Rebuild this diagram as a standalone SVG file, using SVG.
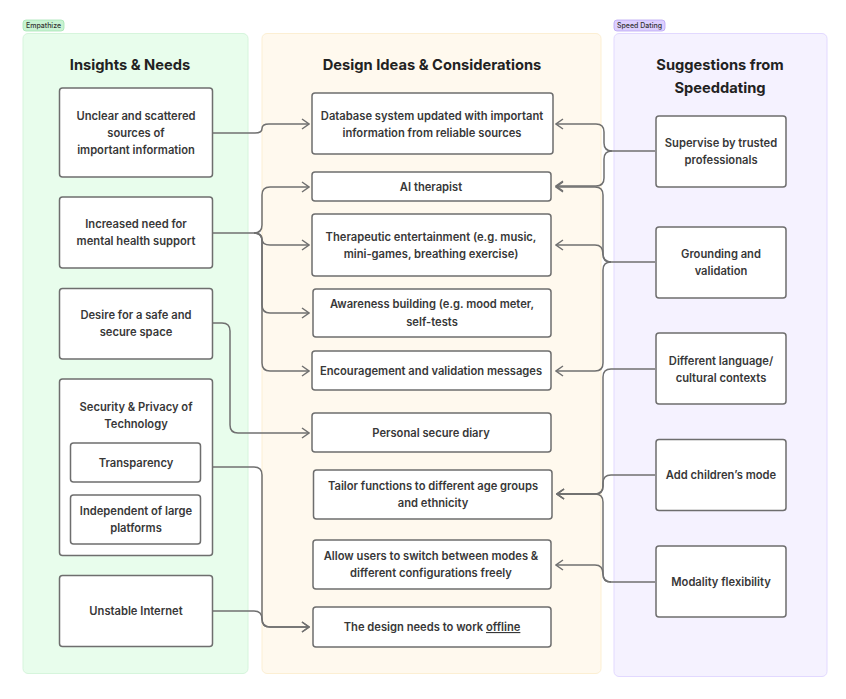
<svg xmlns="http://www.w3.org/2000/svg" width="846" height="699" viewBox="0 0 846 699">
<defs>
<style>
.panel-g{fill:#E8FDEC;stroke:#D6F5DC;stroke-width:1}
.panel-y{fill:#FFF9EE;stroke:#FCEFD3;stroke-width:1}
.panel-p{fill:#F5F2FF;stroke:#E2D9FF;stroke-width:1}
.box{fill:#FFFFFF;stroke:#6E6E6E;stroke-width:1.5}
.t{font-family:Inter,"Liberation Sans",sans-serif;font-size:11.2px;font-weight:600;fill:#383838;text-anchor:middle}
.title{font-family:Inter,"Liberation Sans",sans-serif;font-size:14.7px;font-weight:700;fill:#222;text-anchor:middle}
.tag{font-family:Inter,"Liberation Sans",sans-serif;font-size:7px;font-weight:500;fill:#333;text-anchor:middle}
.c{fill:none;stroke:#707070;stroke-width:1.5}
</style>
<marker id="arr" viewBox="0 0 10 12" refX="9" refY="6" markerWidth="10" markerHeight="12" markerUnits="userSpaceOnUse" orient="auto">
<path d="M2,1 L9,6 L2,11" fill="none" stroke="#707070" stroke-width="1.5"/>
</marker>
</defs>
<rect width="846" height="699" fill="#FFFFFF"/>

<g id="panels">
<rect class="panel-g" x="23" y="33.5" width="225" height="640" rx="5"/>
<rect class="panel-y" x="262" y="33.5" width="339" height="640" rx="5"/>
<rect class="panel-p" x="614" y="33.5" width="213" height="643" rx="5"/>
<rect x="23" y="20" width="41" height="11" rx="3" fill="#C9F3D2" stroke="#A5E3B2" stroke-width="0.8"/>
<text class="tag" x="43.5" y="28">Empathize</text>
<rect x="614" y="20" width="51" height="11" rx="3" fill="#DDD0FF" stroke="#B9A5F3" stroke-width="0.8"/>
<text class="tag" x="639.5" y="28">Speed Dating</text>
<text class="title" x="130" y="70">Insights &amp; Needs</text>
<text class="title" x="432" y="70">Design Ideas &amp; Considerations</text>
<text class="title" x="720" y="70">Suggestions from</text>
<text class="title" x="720" y="93">Speeddating</text>
</g>

<g id="connectors">
<path class="c" d="M213,133 H255 Q262,133 262,128.5 Q262,124 269,124 H309" marker-end="url(#arr)"/>
<path class="c" d="M213,233 H254 Q262,233 262,225 V195 Q262,187 270,187 H309" marker-end="url(#arr)"/>
<path class="c" d="M254,233 Q262,233 262,239 Q262,245 270,245 H309" marker-end="url(#arr)"/>
<path class="c" d="M254,233 Q262,233 262,241 V305 Q262,313 270,313 H309" marker-end="url(#arr)"/>
<path class="c" d="M254,233 Q262,233 262,241 V363 Q262,371 270,371 H309" marker-end="url(#arr)"/>
<path class="c" d="M213,323 H222 Q230,323 230,331 V425 Q230,433 238,433 H309" marker-end="url(#arr)"/>
<path class="c" d="M213,467 H254 Q262,467 262,475 V619 Q262,627 270,627 H309" marker-end="url(#arr)"/>
<path class="c" d="M213,611 H254 Q262,611 262,619 Q262,627 270,627 H309" marker-end="url(#arr)"/>

<path class="c" d="M655,151 H612 Q604,151 604,143 V132 Q604,124 596,124 H556" marker-end="url(#arr)"/>
<path class="c" d="M612,151 Q604,151 604,159 V178 Q604,186 596,186 H556" marker-end="url(#arr)"/>
<path class="c" d="M655,262 H611 Q603,262 603,254 V195 Q603,187 595,187 H556" marker-end="url(#arr)"/>
<path class="c" d="M611,262 Q603,262 603,254 Q603,245 595,245 H556" marker-end="url(#arr)"/>
<path class="c" d="M611,262 Q603,262 603,270 V363 Q603,371 595,371 H556" marker-end="url(#arr)"/>
<path class="c" d="M655,369 H611 Q603,369 603,377 V486 Q603,494 595,494 H557" marker-end="url(#arr)"/>
<path class="c" d="M655,475 H611 Q603,475 603,483 V486 Q603,494 595,494 H557" marker-end="url(#arr)"/>
<path class="c" d="M655,582 H611 Q603,582 603,574 V502 Q603,494 595,494 H557" marker-end="url(#arr)"/>
<path class="c" d="M611,582 Q603,582 603,574 Q603,565 595,565 H556" marker-end="url(#arr)"/>
</g>

<g id="n-unclear">
<rect class="box" x="59.5" y="88" width="153" height="89" rx="3"/>
<text class="t" x="136" y="120">Unclear and scattered</text>
<text class="t" x="136" y="137">sources of</text>
<text class="t" x="136" y="154">important information</text>
</g>
<g id="n-increased">
<rect class="box" x="59.5" y="197" width="153" height="71" rx="3"/>
<text class="t" x="136" y="228">Increased need for</text>
<text class="t" x="136" y="245">mental health support</text>
</g>
<g id="n-desire">
<rect class="box" x="59.5" y="288.5" width="153" height="70.5" rx="3"/>
<text class="t" x="136" y="319">Desire for a safe and</text>
<text class="t" x="136" y="336">secure space</text>
</g>
<g id="n-security">
<rect class="box" x="59.5" y="379" width="153" height="176.5" rx="3"/>
<text class="t" x="136" y="411">Security &amp; Privacy of</text>
<text class="t" x="136" y="428">Technology</text>
</g>
<g id="n-transparency">
<rect class="box" x="70.5" y="443" width="130" height="39" rx="3"/>
<text class="t" x="136" y="467">Transparency</text>
</g>
<g id="n-independent">
<rect class="box" x="70.5" y="495" width="130" height="49" rx="3"/>
<text class="t" x="136" y="515">Independent of large</text>
<text class="t" x="136" y="532">platforms</text>
</g>
<g id="n-unstable">
<rect class="box" x="59.5" y="575.5" width="153" height="71" rx="3"/>
<text class="t" x="136" y="615">Unstable Internet</text>
</g>

<g id="n-database">
<rect class="box" x="312" y="93" width="241" height="61" rx="3"/>
<text class="t" x="432" y="120">Database system updated with important</text>
<text class="t" x="432" y="137">information from reliable sources</text>
</g>
<g id="n-ai">
<rect class="box" x="312" y="172" width="239" height="29" rx="3"/>
<text class="t" x="431" y="191">AI therapist</text>
</g>
<g id="n-therapeutic">
<rect class="box" x="312" y="214" width="239" height="62" rx="3"/>
<text class="t" x="431" y="241">Therapeutic entertainment (e.g. music,</text>
<text class="t" x="431" y="258">mini-games, breathing exercise)</text>
</g>
<g id="n-awareness">
<rect class="box" x="313" y="289" width="238" height="48" rx="3"/>
<text class="t" x="432" y="308">Awareness building (e.g. mood meter,</text>
<text class="t" x="432" y="326">self-tests</text>
</g>
<g id="n-encouragement">
<rect class="box" x="312" y="351" width="239" height="39" rx="3"/>
<text class="t" x="431" y="375">Encouragement and validation messages</text>
</g>
<g id="n-diary">
<rect class="box" x="312" y="413" width="239" height="39" rx="3"/>
<text class="t" x="431" y="437">Personal secure diary</text>
</g>
<g id="n-tailor">
<rect class="box" x="313.5" y="470" width="238.5" height="49" rx="3"/>
<text class="t" x="433" y="490">Tailor functions to different age groups</text>
<text class="t" x="433" y="507">and ethnicity</text>
</g>
<g id="n-allow">
<rect class="box" x="313" y="540" width="238" height="49" rx="3"/>
<text class="t" x="431" y="560">Allow users to switch between modes &amp;</text>
<text class="t" x="431" y="577">different configurations freely</text>
</g>
<g id="n-offline">
<rect class="box" x="313" y="607" width="238" height="40" rx="3"/>
<text class="t" x="432" y="631">The design needs to work <tspan text-decoration="underline">offline</tspan></text>
</g>

<g id="n-supervise">
<rect class="box" x="656" y="116" width="130" height="71" rx="3"/>
<text class="t" x="721" y="147">Supervise by trusted</text>
<text class="t" x="721" y="164">professionals</text>
</g>
<g id="n-grounding">
<rect class="box" x="656" y="227" width="130" height="71" rx="3"/>
<text class="t" x="721" y="258">Grounding and</text>
<text class="t" x="721" y="275">validation</text>
</g>
<g id="n-language">
<rect class="box" x="656" y="333" width="130" height="71" rx="3"/>
<text class="t" x="721" y="365">Different language/</text>
<text class="t" x="721" y="382">cultural contexts</text>
</g>
<g id="n-children">
<rect class="box" x="656" y="439.5" width="130" height="71" rx="3"/>
<text class="t" x="721" y="479">Add children’s mode</text>
</g>
<g id="n-modality">
<rect class="box" x="656" y="546" width="130" height="71" rx="3"/>
<text class="t" x="721" y="586">Modality flexibility</text>
</g>
</svg>
